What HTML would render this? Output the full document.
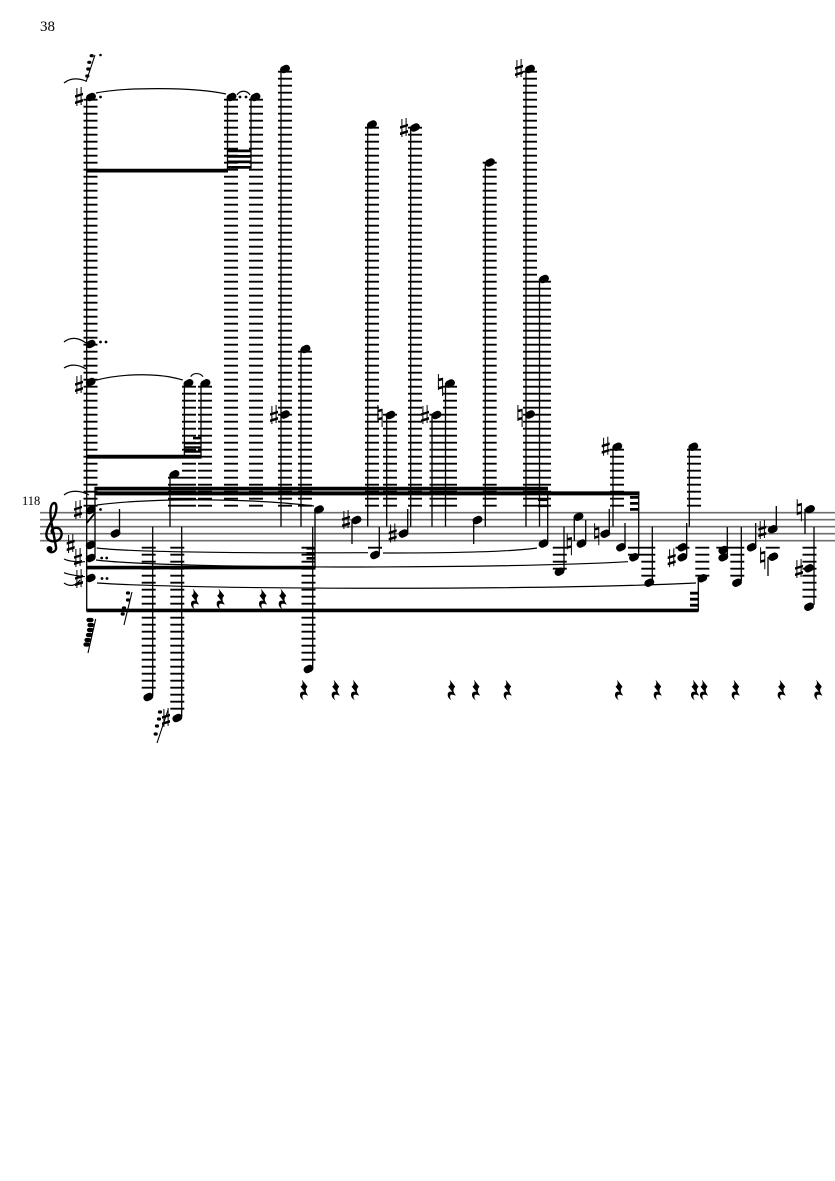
<!DOCTYPE html>
<html><head><meta charset="utf-8"><style>
html,body{margin:0;padding:0;background:#fff;width:835px;height:1181px;overflow:hidden}
svg{display:block}
.st{stroke:#6e6e6e;stroke-width:1.6;fill:none}
.lg{stroke:#000;stroke-width:14;stroke-dasharray:1.8 5.2;fill:none}
.sm{stroke:#000;stroke-width:1.3;fill:none}
.sl{stroke:#000;stroke-width:1.2;fill:none}
.hd{stroke:#000;stroke-width:7.2;stroke-linecap:round;fill:none}
.gh{stroke:#000;stroke-width:3.2;stroke-linecap:round;fill:none}
.gb{stroke:#000;stroke-width:4.2;stroke-linecap:round;fill:none}
text{font-family:"Liberation Serif",serif;fill:#000}
</style></head><body>
<svg width="835" height="1181" viewBox="0 0 835 1181" xmlns="http://www.w3.org/2000/svg">
<rect width="835" height="1181" fill="#fff"/>
<text x="40" y="31" font-size="15">38</text>
<text x="22" y="505" font-size="12.5">118</text>
<path class="st" d="M40 512.7H835M40 519.7H835M40 526.7H835M40 533.7H835M40 540.7H835"/>
<path d="M55 534C51 534 50 529 55 528C60 527 63 532 61 537C59 542 50 543 47 538C44 531 52 522 55 515C57 509 57 503 54 503C50 504 50 512 51 520L56 547C57 552 50 554 48 550" fill="none" stroke="#000" stroke-width="2.4"/>
<circle cx="49.5" cy="549" r="3"/>
<path class="lg" d="M90.5 98.8V506.6M231 98.8V506.6M256 98.8V506.6M285 70.8V506.6M305 350.8V506.6M372 126.8V506.6M415 126.8V506.6M390 413.8V506.6M436.5 413.8V506.6M450 385.8V506.6M489.7 161.8V506.6M530 70.8V506.6M544 280.8V506.6M189 385.8V506.6M205 385.8V506.6M175 476.8V506.6M617 448.8V506.6M694 448.8V506.6M148.7 546.8V688.6M177.3 546.8V709.6M308.5 546.8V660.6M375 546.8V548.6M559.8 546.8V569.6M635 546.8V555.6M648.3 546.8V576.6M682.5 546.8V548.6M702.3 546.8V576.6M723.3 546.8V548.6M737.3 546.8V576.6M772.7 546.8V548.6M809.5 546.8V597.6"/>
<path class="sm" d="M86.7 97V611M95 487V557M227.5 97V170M251 97V168M281 69V526.7M301 349V526.7M367.7 124V526.7M410.7 127V526.7M386.7 415V526.7M432 415V526.7M445.5 383V526.7M485.3 162V526.7M526 69V526.7M539.5 279V526.7M184.4 383V457M201 383V457M170 474V526.7M152.7 526.7V696M181.7 526.7V717M312.7 526.7V668M315 509V568M119.5 509V533M352 520V544M379.3 527V554M407.7 509V532M473.7 520V544M547.7 492V543M564 526.7V571M574.3 517V541M585.7 520V542M609.3 509V532M613 447V526.7M625 523V546M638.7 493V556M652.3 526.7V581M689.3 447V526.7M686.7 523V556M698.3 578V611M727.3 527V556M741.3 527V581M755.7 523V546M776.3 506V528M768 557V576M805 509V534M814 527V605"/>
<path d="M86.7 523L95 513" stroke="#000" stroke-width="1.8"/>
<path fill="#000" d="M86.5 168.7h141.5v3.8h-141.5zM227.5 149.5h24v2.8h-24zM227.5 155h24v2.8h-24zM227.5 160.5h24v2.8h-24zM227.5 166h24v2.8h-24zM86.5 454.8h115v3.8h-115zM184.4 442h16.6v2.4h-16.6zM184.4 446.2h16.6v2.4h-16.6zM184.4 450.4h16.6v2.4h-16.6zM193 436.8h8v2.6h-8zM94.5 486.7h453.5v3.8h-453.5zM94.5 491.4h545v4h-545zM538 498.5h10v2.6h-10zM538 504.5h10v2.6h-10zM630 496h9v2.8h-9zM630 502h9v2.8h-9zM630 508h9v2.8h-9zM86.5 565.8h229v3.6h-229zM306.5 547h9v2.6h-9zM306.5 552h9v2.6h-9zM306.5 557h9v2.6h-9zM86.5 608.6h612v3.7h-612zM690 591.8h8.5v2.8h-8.5zM690 597.8h8.5v2.8h-8.5zM690 603.8h8.5v2.8h-8.5z"/>
<path class="hd" transform="translate(1.1 -.55)" d="M88.6 98.2l2.6-1.3M229.1 98.2l2.6-1.3M253.1 98.2l2.6-1.3M282.6 70.2l2.6-1.3M88.3 345.2l2.6-1.3M88.3 383.2l2.6-1.3M186.1 384.5l2.6-1.3M203.1 384.5l2.6-1.3M282.6 415.7l2.6-1.3M303.1 350.2l2.6-1.3M369.6 125.7l2.6-1.3M412.6 128.7l2.6-1.3M388.1 416.2l2.6-1.3M434.1 416.2l2.6-1.3M447.6 384.7l2.6-1.3M487.6 163.7l2.6-1.3M527.6 70.2l2.6-1.3M527.6 415.7l2.6-1.3M541.6 280.2l2.6-1.3M172.1 475.5l2.6-1.3M88.3 511.2l2.6-1.3M88.3 546.2l2.6-1.3M88.3 559.2l2.6-1.3M88.3 579.2l2.6-1.3M113.1 534.7l2.6-1.3M145.9 698.2l2.6-1.3M174.9 719.2l2.6-1.3M316.6 510.7l2.6-1.3M306.1 670.2l2.6-1.3M354.1 521.2l2.6-1.3M372.6 556.2l2.6-1.3M401.1 534.7l2.6-1.3M475.1 521.2l2.6-1.3M541.1 544.7l2.6-1.3M557.1 572.9l2.6-1.3M576.1 517.9l2.6-1.3M579.1 544.7l2.6-1.3M602.9 534.9l2.6-1.3M614.9 447.9l2.6-1.3M618.6 548.5l2.6-1.3M631.6 558.5l2.6-1.3M646.9 583.9l2.6-1.3M690.9 447.9l2.6-1.3M679.9 548.5l2.6-1.3M679.9 558.5l2.6-1.3M699.9 579.5l2.6-1.3M720.9 551.2l2.6-1.3M720.9 558.5l2.6-1.3M734.6 583.9l2.6-1.3M749.3 548.5l2.6-1.3M770.3 530.5l2.6-1.3M770.9 557.9l2.6-1.3M807.6 510.5l2.6-1.3M806.6 569.5l2.6-1.3M806.6 607.9l2.6-1.3"/>
<g fill="#000">
<circle cx="100.5" cy="97" r="1.4"/><circle cx="240" cy="97" r="1.4"/><circle cx="246" cy="97" r="1.4"/><circle cx="100.5" cy="342" r="1.4"/><circle cx="106" cy="342" r="1.4"/><circle cx="100.5" cy="509.5" r="1.4"/><circle cx="101.7" cy="558" r="1.4"/><circle cx="106.7" cy="558" r="1.4"/><circle cx="102" cy="578.5" r="1.4"/><circle cx="107" cy="578.5" r="1.4"/><circle cx="100.5" cy="55" r="1.3"/>
</g>
<path class="sl" d="M96 93C125 87 195 87 226 94M237 95C240 90 247 90 250 95M64 83C70 78 78 78 86 81M64 342C70 337 78 337 86 343M64 368C70 364 78 364 86 369M96.7 380C125 373 160 373 182.7 380M190.7 376.7C193 372.5 200 372.5 203 376.7M64 495C70 490 80 490 89 495M97 505C150 498 250 498 314 506M96.7 548C140 553 290 553 368 552.7M383 553C440 553 510 552 537 548M96 560C170 569 500 569 628 561.7M97 583C200 590 550 590 696 583M64 559C70 562 78 562 85 561.7M64 572.7C70 575 78 576 85 576.7M64 583C70 587 76 586 80 580"/>
<path id="s" fill="#000" transform="translate(79 97)" d="M-2.6-9h1v18h-1zM1.6-10h1v18h-1zM-4-1.8 4-4.3v2.6L-4 .8zM-4 4.5 4 2v2.6L-4 7.1z"/>
<use href="#s" x="0" y="288"/><use href="#s" x="195" y="318"/><use href="#s" x="325" y="31"/><use href="#s" x="346" y="318"/><use href="#s" x="440" y="-28"/><use href="#s" x="-1" y="413"/><use href="#s" x="-8.3" y="447"/><use href="#s" x="-1" y="461"/><use href="#s" x="0" y="482"/><use href="#s" x="87" y="621"/><use href="#s" x="267" y="423"/><use href="#s" x="313.7" y="436.5"/><use href="#s" x="526.7" y="349.7"/><use href="#s" x="592.7" y="461.3"/><use href="#s" x="683.3" y="433"/><use href="#s" x="720" y="472"/>
<path id="n" fill="#000" transform="translate(380 415)" d="M-2.6-10h1v16h-1zM1.6-4h1v16h-1zM-2.6-5.2 2.6-6.4v2.6L-2.6-2.6zM-2.6 3 2.6 1.8v2.6L-2.6 5.6z"/>
<use href="#n" x="60.5" y="-31"/><use href="#n" x="140" y="0"/><use href="#n" x="189.3" y="128.3"/><use href="#n" x="216.7" y="118.3"/><use href="#n" x="382.7" y="142.3"/><use href="#n" x="419.3" y="94.3"/>
<path id="r" fill="#000" transform="translate(195 599)" d="M-2.2-10.5 3.5-3.4Q0 0 3.5 4.6L4 5.8Q-1 3.4-1.6 6-1.7 9 0 10.5-4.5 8-4 4-3.4 1 .5 1.7L-3.5-3.4Q0-5.5-2.2-10.5Z"/>
<use href="#r" x="25.7"/><use href="#r" x="68"/><use href="#r" x="87.7"/><use href="#r" x="109" y="91"/><use href="#r" x="140.7" y="91"/><use href="#r" x="160" y="91"/><use href="#r" x="256.7" y="91"/><use href="#r" x="281" y="91"/><use href="#r" x="312.7" y="91"/><use href="#r" x="424" y="91"/><use href="#r" x="462.7" y="91"/><use href="#r" x="500" y="91"/><use href="#r" x="509" y="91"/><use href="#r" x="540.7" y="91"/><use href="#r" x="586.7" y="91"/><use href="#r" x="623.3" y="91"/>
<path d="M86 82L95 55M124 625L132 592M88 653L95.7 619M157 743L168 710" stroke="#000" stroke-width="1.1" fill="none"/>
<path class="gh" d="M86.8 76h1M87.8 69h1M88.8 62.3h1M91.2 55.7h1M127.5 593h1M127.5 600h1M123.5 608h1M122.2 614h1M159.5 712h1M158.5 719h1M156.5 726h1M155.2 734h1"/>
<path class="gb" d="M88.5 620h3M89.500 625h2.500M89 630h2.500M88 635h2.500M86.500 640h2.500M85.500 644.500h2.500"/>
</svg>
</body></html>
